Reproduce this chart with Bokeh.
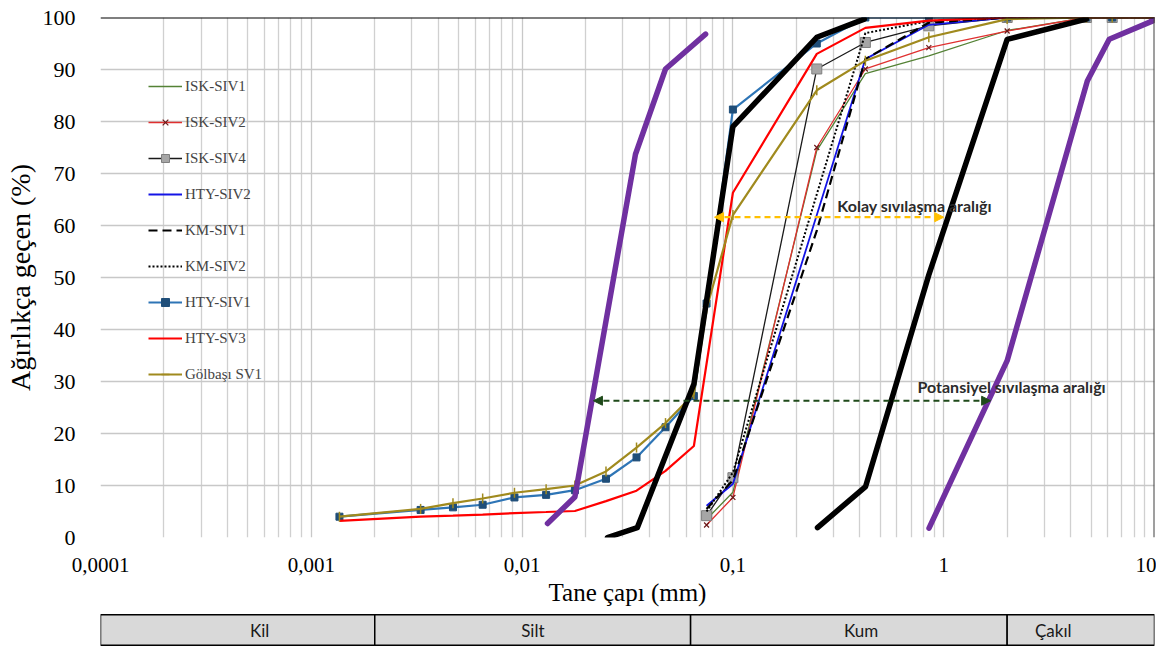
import numpy as np
from bokeh.plotting import figure
from bokeh.models import (FixedTicker, CustomJSTickFormatter, Legend, LegendItem, Span,
                          Arrow, NormalHead, Label, Range1d)
from bokeh.layouts import column
from bokeh.embed import file_html
from bokeh.resources import INLINE
from bokeh.core.properties import value

# ---------------- data ----------------
hyd_d = [0.00136, 0.0033, 0.0047, 0.0065, 0.0092, 0.013, 0.0178, 0.025, 0.0349, 0.0479, 0.0653]
sieve_d = [0.075, 0.1, 0.25, 0.425, 0.85, 2.0, 4.75, 6.3, 10.0]

isk_siv1 = [3.5, 8.7, 74.4, 89.2, 92.6, 97.5, 100, 100, 100]
isk_siv2 = [2.4, 7.7, 75.0, 90.1, 94.2, 97.4, 100, 100, 100]
isk_siv4 = [4.2, 11.5, 90.1, 95.2, 98.4, 100, 100, 100, 100]
hty_siv2 = [6.1, 10.3, 62.0, 92.0, 98.6, 100, 100, 100, 100]
km_siv1 = [5.5, 11.0, 59.0, 92.0, 99.0, 100, 100, 100, 100]
km_siv2 = [5.0, 12.5, 66.0, 97.0, 99.3, 100, 100, 100, 100]

hty_siv1_d = hyd_d + sieve_d
hty_siv1 = [4.0, 5.3, 5.8, 6.3, 7.7, 8.2, 9.1, 11.3, 15.4, 21.2, 27.2,
            45.0, 82.3, 95.0, 100, 100, 100, 100, 100, 100]
hty_sv3_d = hyd_d + sieve_d[1:]
hty_sv3 = [3.2, 4.0, 4.2, 4.4, 4.7, 4.9, 5.1, 7.0, 9.0, 12.8, 17.6,
           66.3, 93.0, 98.0, 99.4, 100, 100, 100, 100]
golbasi_d = hyd_d + sieve_d
golbasi = [4.0, 5.5, 6.6, 7.5, 8.6, 9.3, 10.0, 12.7, 17.3, 22.0, 27.6,
           44.0, 62.0, 86.0, 91.7, 96.2, 99.7, 100, 100, 100]

# liquefaction boundary curves
purple_left_d = [0.0132, 0.0178, 0.0345, 0.0479, 0.0742]
purple_left = [2.7, 7.8, 73.7, 90.1, 96.8]
black_left_d = [0.0254, 0.0352, 0.0653, 0.1, 0.25, 0.42]
black_left = [0.0, 1.9, 29.5, 79.0, 96.2, 99.7]
black_right_d = [0.252, 0.426, 0.85, 2.0, 4.75]
black_right = [1.9, 9.8, 50.5, 95.8, 99.7]
purple_right_d = [0.852, 2.0, 4.8, 6.1, 10.0]
purple_right = [1.8, 34.0, 87.8, 95.8, 99.5]

# range arrows  (x from, x to, y)
kolay_range = [0.0818, 1.0, 61.6]
potansiyel_range = [0.0218, 1.67, 26.3]
kolay_text = "Kolay sıvılaşma aralığı"
kolay_text_pos = [0.313, 63.8]
potansiyel_text = "Potansiyel sıvılaşma aralığı"
potansiyel_text_pos = [0.751, 29.0]

# soil-class band
band_names = ["Kil", "Silt", "Kum", "Çakıl"]
band_left = [0.0001, 0.002, 0.063, 2.0]
band_right = [0.002, 0.063, 2.0, 10.0]
band_text_x = [0.000569, 0.01125, 0.406, 3.31]

x_major = [0.0001, 0.001, 0.01, 0.1, 1, 10]
x_minor = [k * 10.0 ** e for e in range(-4, 1) for k in range(2, 10)]
y_ticks = list(range(0, 101, 10))

SERIF = "Liberation Serif"

# ---------------- main figure ----------------
p = figure(width=1156, height=613, x_axis_type="log",
           x_range=Range1d(0.0001, 10), y_range=Range1d(0, 100),
           output_backend="svg", toolbar_location=None,
           min_border_left=100, min_border_right=2, min_border_top=17, min_border_bottom=76)
p.outline_line_color = None
p.background_fill_color = "white"

p.xaxis.ticker = FixedTicker(ticks=x_major, minor_ticks=x_minor)
p.xaxis.formatter = CustomJSTickFormatter(code="return tick.toString().replace('.', ',');")
p.yaxis.ticker = FixedTicker(ticks=y_ticks)

for ax in (p.xaxis, p.yaxis):
    ax.axis_line_color = None
    ax.major_tick_line_color = None
    ax.minor_tick_line_color = None
    ax.major_label_text_font = SERIF
    ax.major_label_text_color = "black"
    ax.axis_label_text_font = SERIF
    ax.axis_label_text_font_style = "normal"
    ax.axis_label_text_color = "black"

p.yaxis.major_label_text_font_size = "22px"
p.xaxis.major_label_text_font_size = "21px"
p.yaxis.major_label_standoff = 19
p.yaxis.axis_label = "Ağırlıkça geçen (%)"
p.yaxis.axis_label_text_font_size = "28px"
p.yaxis.axis_label_standoff = 4
p.xaxis.major_label_standoff = 14
p.xaxis.axis_label = "Tane çapı (mm)"
p.xaxis.axis_label_text_font_size = "25px"
p.xaxis.axis_label_standoff = 4

p.xgrid.grid_line_color = "#c8c8c8"
p.xgrid.grid_line_width = 1.3
p.xgrid.minor_grid_line_color = "#d0d0d0"
p.xgrid.minor_grid_line_width = 1.3
p.ygrid.grid_line_color = "#c8c8c8"
p.ygrid.grid_line_width = 1.3

p.add_layout(Span(location=100, dimension="width", line_color="black", line_width=2))
p.add_layout(Span(location=10, dimension="height", line_color="#404040", line_width=2))

items = []

r = p.line(sieve_d, isk_siv1, line_color="#548235", line_width=1.3)
items.append(LegendItem(label="ISK-SIV1", renderers=[r]))

r1 = p.line(sieve_d, isk_siv2, line_color="#e03030", line_width=1.3)
r2 = p.scatter(sieve_d, isk_siv2, marker="x", size=7, line_color="#6b1a1a", line_width=1.2)
items.append(LegendItem(label="ISK-SIV2", renderers=[r1, r2]))

r1 = p.line(sieve_d, isk_siv4, line_color="#1a1a1a", line_width=1.3)
r2 = p.scatter(sieve_d, isk_siv4, marker="square", size=10, fill_color="#a6a6a6",
               line_color="#7f7f7f", line_width=1)
items.append(LegendItem(label="ISK-SIV4", renderers=[r1, r2]))

r = p.line(sieve_d, hty_siv2, line_color="#1414e6", line_width=1.8)
items.append(LegendItem(label="HTY-SIV2", renderers=[r]))

r = p.line(sieve_d, km_siv1, line_color="black", line_width=2.2, line_dash="9 5")
items.append(LegendItem(label="KM-SIV1", renderers=[r]))

r = p.line(sieve_d, km_siv2, line_color="black", line_width=2, line_dash="2 2")
items.append(LegendItem(label="KM-SIV2", renderers=[r]))

r1 = p.line(hty_siv1_d, hty_siv1, line_color="#2e75b6", line_width=2.2)
r2 = p.scatter(hty_siv1_d, hty_siv1, marker="square", size=7, fill_color="#1f4e79",
               line_color="#1f4e79")
items.append(LegendItem(label="HTY-SIV1", renderers=[r1, r2]))

r = p.line(hty_sv3_d, hty_sv3, line_color="#ff0000", line_width=2.2)
items.append(LegendItem(label="HTY-SV3", renderers=[r]))

r1 = p.line(golbasi_d, golbasi, line_color="#a08a1e", line_width=2.2)
r2 = p.scatter(golbasi_d, golbasi, marker="dash", angle=np.pi / 2, size=10,
               line_color="#a08a1e", line_width=1.5)
items.append(LegendItem(label="Gölbaşı SV1", renderers=[r1, r2]))

# boundary curves
for d, v, c in [(purple_left_d, purple_left, "#7030a0"), (black_left_d, black_left, "black"),
                (black_right_d, black_right, "black"), (purple_right_d, purple_right, "#7030a0")]:
    p.line(d, v, line_color=c, line_width=5.5, line_cap="round", line_join="round")

# arrows
for rng, col in [(kolay_range, "#ffc000"), (potansiyel_range, "#1f4a1a")]:
    p.add_layout(Arrow(x_start=rng[0], x_end=rng[1], y_start=rng[2], y_end=rng[2],
                       line_color=col, line_width=2.2, line_dash="6 4",
                       start=NormalHead(size=9, fill_color=col, line_color=col),
                       end=NormalHead(size=9, fill_color=col, line_color=col)))

for txt, pos in [(kolay_text, kolay_text_pos), (potansiyel_text, potansiyel_text_pos)]:
    p.add_layout(Label(x=pos[0], y=pos[1], text=txt, text_baseline="middle",
                       text_font="Lato", text_font_size="16px", text_font_style="bold",
                       text_color="#2b2b2b"))

legend = Legend(items=items, location=(48, 153), orientation="vertical",
                glyph_width=34, glyph_height=20, label_height=20, spacing=16,
                label_standoff=3, padding=0, margin=0,
                label_text_font=SERIF, label_text_font_size="15px",
                background_fill_alpha=0, border_line_color=None)
p.add_layout(legend)

# ---------------- soil-class band ----------------
b = figure(width=1156, height=33, x_axis_type="log", x_range=p.x_range,
           y_range=Range1d(-0.04, 1.04), output_backend="svg", toolbar_location=None,
           min_border_left=100, min_border_right=2, min_border_top=0, min_border_bottom=0)
b.axis.visible = False
b.grid.visible = False
b.outline_line_color = None
b.quad(left=band_left, right=band_right, bottom=0, top=1, fill_color="#d9d9d9",
       line_color="black", line_width=1.5)
b.text(x=band_text_x, y=[0.5] * 4, text=band_names, text_align="center",
       text_baseline="middle", text_font=value("Lato"), text_font_size="17px",
       text_color="#1a1a1a")

layout = column(p, b, spacing=0)
open("out.html", "w", encoding="utf-8").write(file_html(layout, INLINE))
